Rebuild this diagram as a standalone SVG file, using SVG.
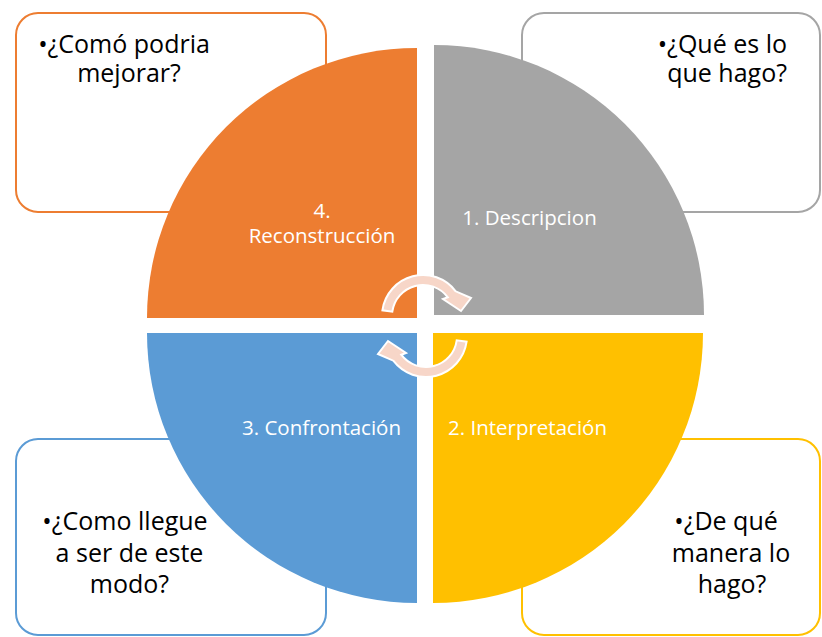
<svg xmlns="http://www.w3.org/2000/svg" width="822" height="637" viewBox="0 0 822 637">
  <style>
    .box { fill: #FFFFFF; stroke-width: 2; }
    .q { font-family: "Open Sans", "Noto Sans", "DejaVu Sans", sans-serif; font-size: 25px; fill: #000000; }
    .lbl { font-family: "Open Sans", "Noto Sans", "DejaVu Sans", sans-serif; font-size: 20.5px; fill: #FFFFFF; text-anchor: middle; }
    .arrow { fill: #F7D6C8; stroke: #FFFFFF; stroke-width: 2; stroke-linejoin: miter; }
  </style>
  <defs>
    <path id="circArrow" d="M382.4,310.3 A41,41 0 0 1 455.7,291.3 L471,298 L461,311 L443,299 L447.8,297.3 A31,31 0 0 0 392.3,311.7 Z"/>
  </defs>
  <rect width="822" height="637" fill="#FFFFFF"/>

  <!-- outer text boxes -->
  <g id="box-mejorar">
    <rect class="box" x="16" y="13" width="310" height="199" rx="22" ry="22" stroke="#ED7D31"/>
    <text class="q" x="124" y="53" text-anchor="middle">•¿Comó podria</text>
    <text class="q" x="129" y="82" text-anchor="middle">mejorar?</text>
  </g>
  <g id="box-que-hago">
    <rect class="box" x="522" y="13" width="298" height="199" rx="22" ry="22" stroke="#A5A5A5"/>
    <text class="q" x="787" y="53" text-anchor="end">•¿Qué es lo</text>
    <text class="q" x="787" y="82" text-anchor="end">que hago?</text>
  </g>
  <g id="box-como-llegue">
    <rect class="box" x="16" y="439" width="310" height="196" rx="22" ry="22" stroke="#5B9BD5"/>
    <text class="q" x="125" y="530" text-anchor="middle">•¿Como llegue</text>
    <text class="q" x="129.5" y="562" text-anchor="middle">a ser de este</text>
    <text class="q" x="129.5" y="593" text-anchor="middle">modo?</text>
  </g>
  <g id="box-de-que-manera">
    <rect class="box" x="522" y="439" width="298" height="196" rx="22" ry="22" stroke="#FFC000"/>
    <text class="q" x="726" y="530" text-anchor="middle">•¿De qué</text>
    <text class="q" x="731" y="562" text-anchor="middle">manera lo</text>
    <text class="q" x="732" y="593" text-anchor="middle">hago?</text>
  </g>

  <!-- quadrants -->
  <g id="q-reconstruccion">
    <path d="M417,318 L147,318 A270,270 0 0 1 417,48 Z" fill="#ED7D31"/>
    <text class="lbl" x="322" y="218">4.</text>
    <text class="lbl" x="322" y="243">Reconstrucción</text>
  </g>
  <g id="q-descripcion">
    <path d="M434,315 L434,45 A270,270 0 0 1 704,315 Z" fill="#A5A5A5"/>
    <text class="lbl" x="529.5" y="225">1. Descripcion</text>
  </g>
  <g id="q-interpretacion">
    <path d="M433,333 L703,333 A270,270 0 0 1 433,603 Z" fill="#FFC000"/>
    <text class="lbl" x="527.5" y="435">2. Interpretación</text>
  </g>
  <g id="q-confrontacion">
    <path d="M417,333 L417,603 A270,270 0 0 1 147,333 Z" fill="#5B9BD5"/>
    <text class="lbl" x="321.5" y="435">3. Confrontación</text>
  </g>

  <!-- circular arrows -->
  <g id="connectors">
    <use href="#circArrow" class="arrow"/>
    <use href="#circArrow" class="arrow" transform="rotate(180 424.5 326)"/>
  </g>
</svg>
